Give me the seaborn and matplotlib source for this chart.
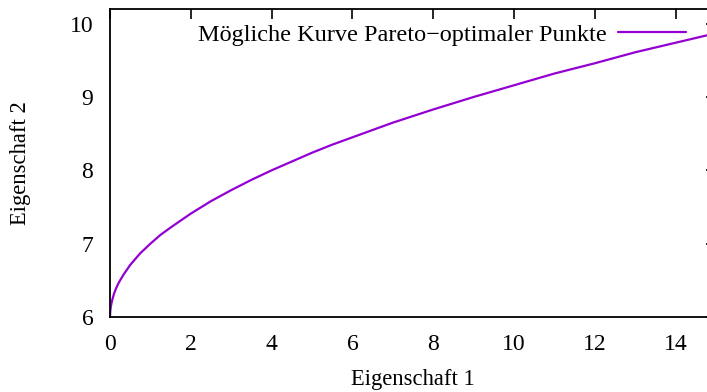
import matplotlib
matplotlib.use("Agg")
import matplotlib.pyplot as plt
import seaborn as sns
import pandas as pd

eigenschaft1 = [0, 0.005, 0.01, 0.02, 0.03, 0.05, 0.1, 0.15, 0.2, 0.25, 0.35, 0.5, 0.75, 1, 1.25, 1.5, 2, 2.5,
                3, 3.5, 4, 4.5, 5, 5.5, 6, 7, 8, 9, 10, 11, 12, 13, 14, 15]
eigenschaft2 = [6.0, 6.07, 6.1, 6.14, 6.17, 6.22, 6.32, 6.39, 6.45, 6.5, 6.59, 6.71, 6.87, 7.0, 7.12, 7.22, 7.41, 7.58,
                7.73, 7.87, 8.0, 8.12, 8.24, 8.35, 8.45, 8.65, 8.83, 9.0, 9.16, 9.32, 9.46, 9.61, 9.74, 9.87]
xticks = [0, 2, 4, 6, 8, 10, 12, 14]
yticks = [6, 7, 8, 9, 10]
label = "Mögliche Kurve Pareto−optimaler Punkte"

sns.set_style("white")
plt.rcParams['font.family'] = ['Liberation Serif', 'DejaVu Serif']

df = pd.DataFrame({"x": eigenschaft1, "y": eigenschaft2})

fig = plt.figure(figsize=(7.07, 3.92), dpi=100)
ax = fig.add_axes([110/707, 75/392, 606/707, 308/392])
sns.lineplot(data=df, x="x", y="y", ax=ax, color="#9400D3", linewidth=1.6, label=label)

ax.set_xlim(0, 15)
ax.set_ylim(6, 10.2)
ax.set_xticks(xticks)
ax.set_yticks(yticks)
ax.tick_params(direction="in", length=7, width=1.2, top=True, right=True,
               labelsize=17, colors="black", labelcolor="black")
ax.tick_params(axis="x", pad=12)
ax.tick_params(axis="y", pad=12)
for s in ax.spines.values():
    s.set_linewidth(1.3)
    s.set_color("black")
ax.set_xlabel("Eigenschaft 1", fontsize=16.3, labelpad=10, color="black")
ax.set_ylabel("Eigenschaft 2", fontsize=16.3, labelpad=28, color="black")

leg = ax.legend(loc="upper right", bbox_to_anchor=((695 - 110) / 606, 1.0 - 6 / 308), frameon=False,
                markerfirst=False, fontsize=17.5, handlelength=2.8, handletextpad=0.5,
                borderaxespad=0.0, borderpad=0.35)
for t in leg.get_texts():
    t.set_color("black")

fig.savefig("out.png", dpi=100)
